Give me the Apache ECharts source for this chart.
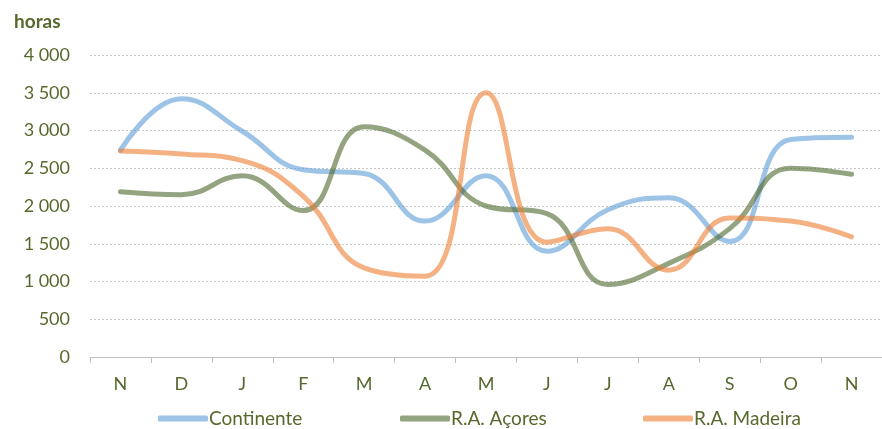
<!DOCTYPE html>
<html>
<head>
<meta charset="utf-8">
<script src="https://cdn.jsdelivr.net/npm/echarts@6/dist/echarts.min.js"></script>
<style>
  html, body { margin: 0; padding: 0; background: #fff; }
  #chart { width: 882px; height: 429px; }
</style>
</head>
<body>
<div id="chart"></div>
<script>
const months = ["N", "D", "J", "F", "M", "A", "M", "J", "J", "A", "S", "O", "N"];
const continente = [2740, 3420, 2990, 2480, 2430, 1800, 2400, 1400, 1950, 2110, 1530, 2880, 2910];
const acores = [2190, 2150, 2400, 1940, 3050, 2740, 2000, 1900, 960, 1240, 1700, 2500, 2420];
const madeira = [2730, 2690, 2600, 2130, 1180, 1070, 3500, 1520, 1700, 1150, 1840, 1800, 1590];

const textColor = "#56692c";
const font = "Lato, 'Open Sans', sans-serif";

const chart = echarts.init(document.getElementById("chart"));

function line(name, data, color) {
  return {
    name: name,
    type: "line",
    data: data,
    smooth: 0.45,
    showSymbol: false,
    lineStyle: { width: 5, color: color, opacity: 0.6, cap: "round" },
    itemStyle: { color: color, opacity: 0.6 },
  };
}

function legendAt(left, name) {
  return {
    left: left,
    top: 404,
    itemWidth: 50,
    itemHeight: 6,
    icon: "roundRect",
    textStyle: { color: textColor, fontSize: 19, fontFamily: font, padding: [0, 0, 0, -4] },
    data: [name],
  };
}

chart.setOption({
  animation: false,
  textStyle: { fontFamily: font },
  title: {
    text: "horas",
    left: 9,
    top: 7,
    textStyle: { color: textColor, fontSize: 19, fontWeight: "bold", fontFamily: font },
  },
  legend: [
    legendAt(153, "Continente"),
    legendAt(395, "R.A. Açores"),
    legendAt(638, "R.A. Madeira"),
  ],
  grid: { left: 90, top: 55, width: 800, bottom: 72, containLabel: false },
  xAxis: {
    type: "category",
    data: months,
    boundaryGap: true,
    axisLine: { lineStyle: { color: "#bfbfbf", width: 1 } },
    axisTick: { show: true, length: 6, lineStyle: { color: "#bfbfbf" } },
    axisLabel: { color: textColor, fontSize: 18, margin: 18, fontFamily: font },
  },
  yAxis: {
    type: "value",
    min: 0,
    max: 4000,
    interval: 500,
    axisLine: { show: false },
    axisTick: { show: false },
    splitLine: { lineStyle: { color: "#c8c8c8", type: [2, 2], width: 1 } },
    axisLabel: {
      color: textColor,
      fontSize: 18,
      margin: 20,
      fontFamily: font,
      formatter: (v) => String(v).replace(/\B(?=(\d{3})+(?!\d))/g, " "),
    },
  },
  series: [
    line("Continente", continente, "#5b9bd5"),
    line("R.A. Açores", acores, "#4c662b"),
    line("R.A. Madeira", madeira, "#ed7d31"),
  ],
});
</script>
</body>
</html>
